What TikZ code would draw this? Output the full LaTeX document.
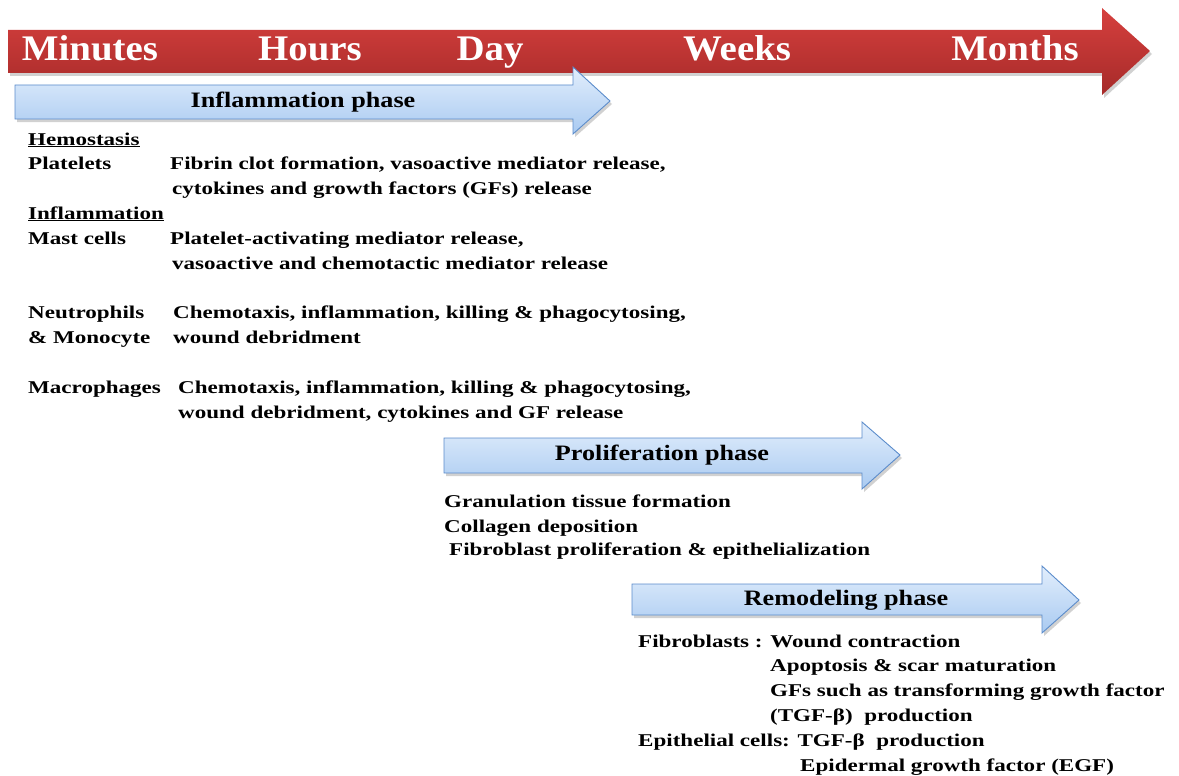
\documentclass[tikz,border=0pt]{standalone}
\usepackage{fontspec}
\setmainfont{Liberation Serif}
\newfontfamily\bodyfont{Liberation Serif}[FakeStretch=1.28]
\newfontfamily\phasefont{Liberation Serif}[FakeStretch=1.19]
\newfontfamily\timefont{Liberation Serif}[FakeStretch=1.08]
\definecolor{redtop}{HTML}{D6403E}
\definecolor{redbot}{HTML}{A62A29}
\definecolor{bluetop}{HTML}{E2EEFC}
\definecolor{bluebot}{HTML}{A9CAF1}
\definecolor{blueline}{HTML}{5B8CCB}
\tikzset{
  body/.style={anchor=base west, inner sep=0pt, font=\bodyfont\bfseries\fontsize{18}{20}\selectfont},
  timelbl/.style={anchor=base, inner sep=0pt, text=white, font=\timefont\bfseries\fontsize{36}{40}\selectfont},
  phaselbl/.style={anchor=base, inner sep=0pt, font=\phasefont\bfseries\fontsize{22}{24}\selectfont},
  bluearrow/.style={top color=bluetop, bottom color=bluebot, draw=blueline, line width=0.9pt},
  shadowed/.style={fill=black, opacity=0.18},
}
\begin{document}
\begin{tikzpicture}[x=1pt,y=-1pt]
\useasboundingbox (0,0) rectangle (1179,776);
% timeline arrow
\fill[shadowed] (10,33) -- (1104,33) -- (1104,11) -- (1152,54) -- (1104,98) -- (1104,76) -- (10,76) -- cycle;
\shade[top color=redtop, bottom color=redbot] (8,30) -- (1102,30) -- (1102,8) -- (1150,51) -- (1102,95) -- (1102,73) -- (8,73) -- cycle;
\node[timelbl] (minutes) at (90,61) {Minutes};
\node[timelbl] (hours) at (310,61) {Hours};
\node[timelbl] (day) at (490,61) {Day};
\node[timelbl] (weeks) at (737,61) {Weeks};
\node[timelbl] (months) at (1015,61) {Months};
% inflammation arrow
\fill[shadowed] (17,88) -- (575,88) -- (575,70) -- (612,104) -- (575,137) -- (575,122) -- (17,122) -- cycle;
\shade[bluearrow] (15,85) -- (573,85) -- (573,67) -- (610,101) -- (573,134) -- (573,119) -- (15,119) -- cycle;
\node[phaselbl] (infl) at (303,107) {Inflammation phase};
% proliferation arrow
\fill[shadowed] (446,441) -- (864,441) -- (864,425) -- (902,458) -- (864,492) -- (864,476) -- (446,476) -- cycle;
\shade[bluearrow] (444,438) -- (862,438) -- (862,422) -- (900,455) -- (862,489) -- (862,473) -- (444,473) -- cycle;
\node[phaselbl] (prolif) at (662,460) {Proliferation phase};
% remodeling arrow
\fill[shadowed] (634,587) -- (1044,587) -- (1044,569) -- (1081,603) -- (1044,636) -- (1044,618) -- (634,618) -- cycle;
\shade[bluearrow] (632,584) -- (1042,584) -- (1042,566) -- (1079,600) -- (1042,633) -- (1042,615) -- (632,615) -- cycle;
\node[phaselbl] (remod) at (846,605) {Remodeling phase};
% inflammation texts
\node[body] (hemo) at (28,145) {\underline{Hemostasis}};
\node[body] (plat) at (28,169) {Platelets};
\node[body] (platA) at (170,169) {Fibrin clot formation, vasoactive mediator release,};
\node[body] (platB) at (172,194) {cytokines and growth factors (GFs) release};
\node[body] (inflh) at (28,219) {\underline{Inflammation}};
\node[body] (mast) at (28,244) {Mast cells};
\node[body] (mastA) at (170,244) {Platelet-activating mediator release,};
\node[body] (mastB) at (172,269) {vasoactive and chemotactic mediator release};
\node[body] (neut) at (28,318) {Neutrophils};
\node[body] (mono) at (28,343) {\& Monocyte};
\node[body] (neutA) at (173,318) {Chemotaxis, inflammation, killing \& phagocytosing,};
\node[body] (neutB) at (173,343) {wound debridment};
\node[body] (macro) at (28,393) {Macrophages};
\node[body] (macroA) at (178,393) {Chemotaxis, inflammation, killing \& phagocytosing,};
\node[body] (macroB) at (178,418) {wound debridment, cytokines and GF release};
% proliferation texts
\node[body] (gran) at (444,507) {Granulation tissue formation};
\node[body] (coll) at (444,532) {Collagen deposition};
\node[body] (fibp) at (449,555) {Fibroblast proliferation \& epithelialization};
% remodeling texts
\node[body] (fibr) at (638,647) {Fibroblasts : Wound contraction};
\node[body] (apop) at (770,671) {Apoptosis \& scar maturation};
\node[body] (gfs) at (770,696) {GFs such as transforming growth factor};
\node[body] (tgf) at (770,721) {(TGF-β)\ \ production};
\node[body] (epi) at (638,746) {Epithelial cells: TGF-β\ \ production};
\node[body] (egf) at (800,771) {Epidermal growth factor (EGF)};
\end{tikzpicture}
\end{document}
